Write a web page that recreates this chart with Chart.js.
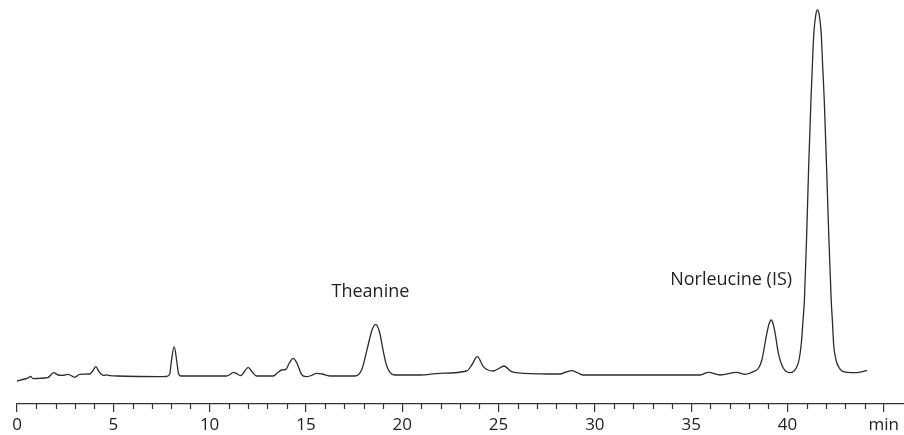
<!DOCTYPE html>
<html><head><meta charset="utf-8">
<script src="https://cdn.jsdelivr.net/npm/chart.js@4"></script>
<style>html,body{margin:0;padding:0;background:#fff}#wrap{width:904px;height:435px}</style>
</head><body><div id="wrap"><canvas id="c" width="904" height="435"></canvas></div>
<script>
// Retention time (min)
const timeMin = [0,0.40,0.58,0.70,0.83,1.18,1.59,1.91,2.13,2.37,2.65,3.00,3.26,3.78,3.93,4.09,4.24,4.38,4.52,4.64,4.85,5.16,7.41,7.76,7.93,8.01,8.16,8.30,8.38,8.50,10.88,11.02,11.26,11.62,11.83,12.00,12.19,12.44,13.30,13.54,13.74,13.96,14.14,14.34,14.53,14.77,15.03,15.28,15.55,15.83,16.24,17.54,17.89,18.23,18.43,18.62,18.82,19.02,19.18,19.36,19.62,20.92,21.96,23.35,23.61,23.90,24.21,24.45,24.73,24.97,25.28,25.68,26.29,28.19,28.51,28.80,29.08,29.40,31.31,35.46,35.90,36.50,37.37,37.80,38.23,38.50,38.67,38.93,39.05,39.15,39.25,39.36,39.53,39.79,40.14,40.49,40.61,40.72,40.81,40.88,41.00,41.10,41.22,41.29,41.37,41.47,41.56,41.65,41.75,41.83,41.91,42.03,42.14,42.27,42.33,42.40,42.52,42.65,42.91,43.43,44.13];
// Detector response (arbitrary units)
const signal = [23,25,26,27.7,25.3,25.7,26.3,31.3,29,28.7,29.7,26.7,29.7,30,33,37.3,33,29.7,28.6,29.2,28.3,28,27.3,27.5,30,42,57.3,42,31,28,28,29,31.7,28.3,33,36.7,32.5,28,28,31.5,34,34.7,41,45.7,41,29.7,27.3,28.5,30.7,30,28,28,34,59,74,79.7,72,52.3,39,31.7,29,29,30.7,33,39,47.3,37.3,34,33,35,38,32.3,30.7,30,32,33.3,31.5,29,29,29,31.7,29,31.7,29.7,32.3,36,44,70.7,80.5,84,80.5,70.7,50.7,35.7,31.3,37.3,45,61,84,104,171,237,304,337,371,389,394,389,371,337,304,237,171,104,84,59,44,37.3,32.3,31.3,33.3];
const majorTicks = [0,5,10,15,20,25,30,35,40,45];
const tickLabels = ['0','5','10','15','20','25','30','35','40','min'];
const minorTicks = [1,2,3,4,6,7,8,9,11,12,13,14,16,17,18,19,21,22,23,24,26,27,28,29,31,32,33,34,36,37,38,39,41,42,43,44];
const peakNames = ['Theanine','Norleucine (IS)'];

const minorTickPlugin = {
  id: 'minorTicks',
  afterDraw(chart) {
    const ctx = chart.ctx, xs = chart.scales.x, b = chart.chartArea.bottom;
    ctx.save();
    ctx.strokeStyle = '#333'; ctx.lineWidth = 1.2;
    minorTicks.forEach(v => {
      const px = Math.round(xs.getPixelForValue(v)) + 0.5;
      ctx.beginPath(); ctx.moveTo(px, b); ctx.lineTo(px, b + 5); ctx.stroke();
    });
    ctx.restore();
  }
};
const peakLabelPlugin = {
  id: 'peakLabels',
  afterDatasetsDraw(chart) {
    const ctx = chart.ctx, xs = chart.scales.x, ys = chart.scales.y;
    ctx.save();
    ctx.font = '18px "Open Sans"';
    ctx.fillStyle = '#231f20';
    ctx.textAlign = 'left'; ctx.textBaseline = 'alphabetic';
    ctx.fillText(peakNames[0], xs.getPixelForValue(16.33), ys.getPixelForValue(107));
    ctx.fillText(peakNames[1], xs.getPixelForValue(33.91), ys.getPixelForValue(119));
    ctx.restore();
  }
};

function draw() {
  new Chart(document.getElementById('c'), {
    type: 'line',
    data: {
      datasets: [{
        data: timeMin.map((t, i) => ({x: t, y: signal[i]})),
        borderColor: '#2b2b2b', borderWidth: 1.3, pointRadius: 0,
        cubicInterpolationMode: 'monotone', fill: false
      }]
    },
    options: {
      responsive: false, animation: false, devicePixelRatio: 1,
      layout: {padding: {left: 17, right: 0, top: 0, bottom: 0}},
      plugins: {legend: {display: false}, tooltip: {enabled: false}},
      scales: {
        x: {
          type: 'linear', min: 0, max: 46.05,
          afterBuildTicks: s => { s.ticks = majorTicks.map(v => ({value: v})); },
          afterFit: s => { s.height = 31; },
          ticks: {
            color: '#222', font: {family: '"Open Sans"', size: 17}, padding: 3,
            maxRotation: 0, autoSkip: false,
            callback: v => tickLabels[majorTicks.indexOf(v)]
          },
          grid: {drawOnChartArea: false, drawTicks: true, tickLength: 8, color: '#333', lineWidth: 1.2},
          border: {display: true, color: '#333', width: 1.2}
        },
        y: {display: false, min: 0, max: 404}
      }
    },
    plugins: [minorTickPlugin, peakLabelPlugin]
  });
}
if (document.fonts && document.fonts.load) {
  Promise.all([document.fonts.load('17px "Open Sans"'), document.fonts.load('18px "Open Sans"')]).then(draw, draw);
} else { draw(); }
</script>
</body></html>
